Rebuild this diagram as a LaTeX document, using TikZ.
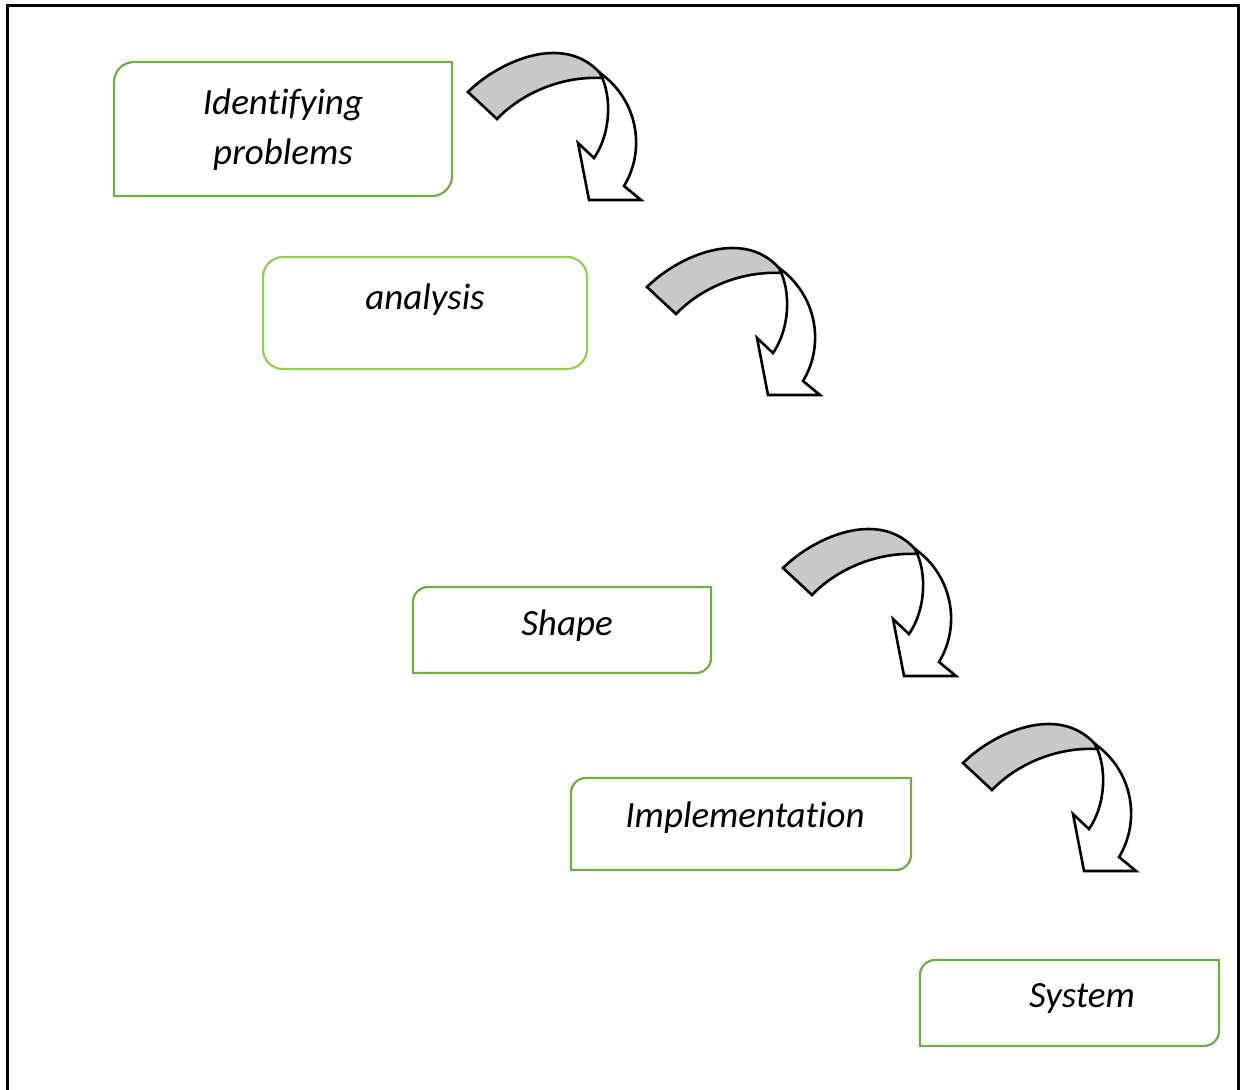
\documentclass[tikz,border=0pt]{standalone}
\usepackage{fontspec}
\setmainfont{Carlito}[Ligatures=NoCommon]
\usetikzlibrary{calc}
\definecolor{boxgreen}{HTML}{70AD47}
\definecolor{lightgreen}{HTML}{92D050}
\definecolor{arrowgrey}{HTML}{C8C8C8}
\tikzset{
  frameline/.style={line width=1.5pt, draw=black},
  boxline/.style={line width=1.1pt, draw=boxgreen},
  boxarea/.style={rectangle, inner sep=0pt, outer sep=0pt},
  steplabel/.style={font=\fontsize{18.5}{25}\selectfont\itshape, align=center, inner sep=0pt},
  arrowline/.style={line width=1.3pt, draw=black, line join=miter},
  curvedarrow/.pic={
    \draw[arrowline, fill=white] (132,23) .. controls (145,48) and (142,85) .. (126,108)
      -- (110,93) -- (121,150) -- (173,150) -- (156,136)
      .. controls (178,100) and (170,50) .. (132,23) -- cycle;
    \draw[arrowline, fill=arrowgrey] (0,42) .. controls (30,12) and (95,-18) .. (132,23)
      -- (134,28) .. controls (95,26) and (55,42) .. (29,69) -- cycle;
  }
}
\newcommand\stepbox[6]{%
  \node[boxarea, minimum width={(#4-#2)*0.5pt}, minimum height={(#5-#3)*0.5pt}] (#1) at ({(#2+#4)/2},{(#3+#5)/2}) {};
  \draw[boxline] (#1.south west) -- ($(#1.north west)+(0,#6)$)
    .. controls ($(#1.north west)+(0,0.45*#6)$) and ($(#1.north west)+(0.45*#6,0)$) .. ($(#1.north west)+(#6,0)$)
    -- (#1.north east) -- ($(#1.south east)+(0,-#6)$)
    .. controls ($(#1.south east)+(0,-0.45*#6)$) and ($(#1.south east)+(-0.45*#6,0)$) .. ($(#1.south east)+(-#6,0)$)
    -- cycle;
}
\begin{document}
\begin{tikzpicture}[x=0.5pt,y=-0.5pt]
  \useasboundingbox (0,0) rectangle (1240,1090);
  \draw[frameline] (7,1090) -- (7,6) -- (1238,6) -- (1238,1090);

  \stepbox{b1}{114}{62}{452}{196}{20}
  \node[boxarea, draw=lightgreen, line width=1.1pt, rounded corners=10pt,
        minimum width={324*0.5pt}, minimum height={112*0.5pt}] (b2) at (425,313) {};
  \stepbox{b3}{413}{587}{711}{673}{15}
  \stepbox{b4}{571}{778}{911}{870}{15}
  \stepbox{b5}{920}{960}{1219}{1046}{15}

  \node[steplabel] (t1) at (283,130) {Identifying\\problems};
  \node[steplabel] (t2) at (425,300) {analysis};
  \node[steplabel] (t3) at (567,626) {Shape};
  \node[steplabel] (t4) at (745,818) {Implementation};
  \node[steplabel] (t5) at (1082,998) {System};

  \pic (a1) at (468,50) {curvedarrow};
  \pic (a2) at (647,245) {curvedarrow};
  \pic (a3) at (783,526) {curvedarrow};
  \pic (a4) at (963,721) {curvedarrow};
\end{tikzpicture}
\end{document}
